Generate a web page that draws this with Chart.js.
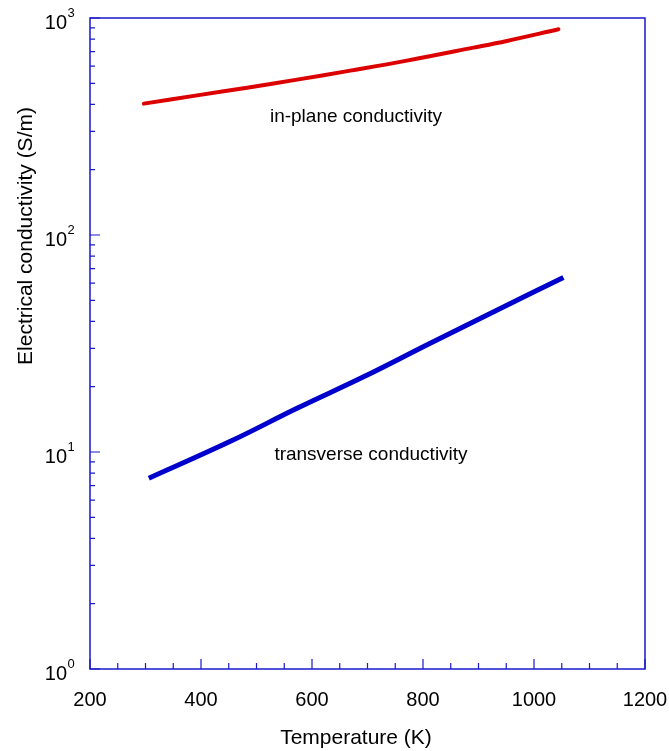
<!DOCTYPE html>
<html>
<head>
<meta charset="utf-8">
<script src="https://cdn.jsdelivr.net/npm/chart.js@4.4.1/dist/chart.umd.min.js"></script>
<style>
  html, body { margin: 0; padding: 0; background: #fff; }
  #wrap { width: 669px; height: 751px; }
</style>
</head>
<body>
<div id="wrap"><canvas id="chart" width="669" height="751"></canvas></div>
<script>
// values
const inPlaneT = [297, 393, 483, 573, 669, 771, 891, 951, 1044];
const inPlaneSigma = [403, 440, 477, 520, 572, 636, 730, 784, 887];
const transverseT = [306, 453, 573, 693, 813, 933, 1053];
const transverseSigma = [7.57, 11.2, 15.9, 22.2, 31.7, 45.0, 63.7];

const xMajorTicks = [200, 400, 600, 800, 1000, 1200];
const xMinorStep = 50;
const yDecades = [1, 10, 100, 1000];
const yDecadeExponents = ['0', '1', '2', '3'];

const FONT = 'Arial, "Liberation Sans", sans-serif';
const AXIS_COLOR = '#1a1acc';

function toPoints(xs, ys) {
    return xs.map((x, i) => ({ x: x, y: ys[i] }));
}

const axesPlugin = {
    id: 'axesPlugin',
    afterDraw(chart) {
        const ctx = chart.ctx;
        const area = chart.chartArea;
        const xs = chart.scales.x;
        const ys = chart.scales.y;
        ctx.save();

        // frame
        ctx.strokeStyle = AXIS_COLOR;
        ctx.lineWidth = 1.5;
        ctx.strokeRect(area.left, area.top, area.right - area.left, area.bottom - area.top);

        // x ticks (inside)
        ctx.lineWidth = 1.2;
        ctx.beginPath();
        for (let v = xs.min; v <= xs.max; v += xMinorStep) {
            const px = xs.getPixelForValue(v);
            const len = xMajorTicks.includes(v) ? 10 : 6;
            ctx.moveTo(px, area.bottom);
            ctx.lineTo(px, area.bottom - len);
        }
        // y ticks (inside)
        for (let d = 0; d < yDecades.length; d++) {
            const base = yDecades[d];
            const py = ys.getPixelForValue(base);
            ctx.moveTo(area.left, py);
            ctx.lineTo(area.left + 10, py);
            if (d < yDecades.length - 1) {
                for (let m = 2; m <= 9; m++) {
                    const pm = ys.getPixelForValue(base * m);
                    ctx.moveTo(area.left, pm);
                    ctx.lineTo(area.left + 5, pm);
                }
            }
        }
        ctx.stroke();

        // x tick labels
        ctx.fillStyle = '#000';
        ctx.font = '20px ' + FONT;
        ctx.textAlign = 'center';
        ctx.textBaseline = 'middle';
        xMajorTicks.forEach(v => {
            ctx.fillText(String(v), xs.getPixelForValue(v), 700);
        });

        // y tick labels with superscript exponents
        yDecades.forEach((v, i) => {
            const py = ys.getPixelForValue(v);
            ctx.font = '20px ' + FONT;
            ctx.textAlign = 'right';
            ctx.textBaseline = 'middle';
            ctx.fillText('10', 67, py + 5);
            ctx.font = '13px ' + FONT;
            ctx.textAlign = 'left';
            ctx.fillText(yDecadeExponents[i], 67.5, py - 5);
        });

        // axis titles
        ctx.font = '21px ' + FONT;
        ctx.textAlign = 'center';
        ctx.textBaseline = 'middle';
        ctx.fillText('Temperature (K)', 356, 738);
        ctx.save();
        ctx.translate(26, 236);
        ctx.rotate(-Math.PI / 2);
        ctx.fillText('Electrical conductivity (S/m)', 0, 0);
        ctx.restore();

        // curve annotations
        ctx.font = '19px ' + FONT;
        ctx.fillText('in-plane conductivity', 356, 117);
        ctx.fillText('transverse conductivity', 371, 455);

        ctx.restore();
    }
};

new Chart(document.getElementById('chart'), {
    type: 'line',
    data: {
        datasets: [
            {
                label: 'in-plane conductivity',
                data: toPoints(inPlaneT, inPlaneSigma),
                borderColor: '#dd0000',
                borderWidth: 4,
                pointRadius: 0,
                tension: 0.4,
                fill: false,
                borderCapStyle: 'round'
            },
            {
                label: 'transverse conductivity',
                data: toPoints(transverseT, transverseSigma),
                borderColor: '#0000cc',
                borderWidth: 5,
                pointRadius: 0,
                tension: 0.4,
                fill: false,
                borderCapStyle: 'butt'
            }
        ]
    },
    options: {
        responsive: false,
        animation: false,
        layout: { padding: { left: 90, top: 18, right: 24, bottom: 82 } },
        plugins: { legend: { display: false }, tooltip: { enabled: false } },
        scales: {
            x: { type: 'linear', min: 200, max: 1200, display: false },
            y: { type: 'logarithmic', min: 1, max: 1000, display: false }
        }
    },
    plugins: [axesPlugin]
});
</script>
</body>
</html>
